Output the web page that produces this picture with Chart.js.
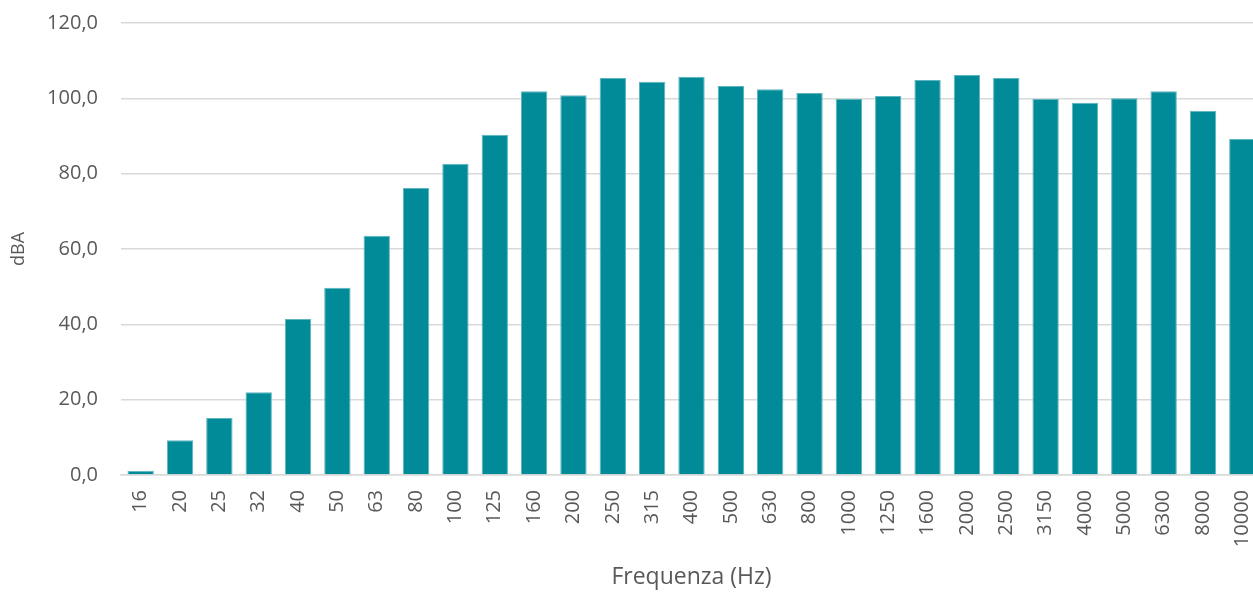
<!DOCTYPE html>
<html>
<head>
<meta charset="utf-8">
<script src="https://cdn.jsdelivr.net/npm/chart.js@4/dist/chart.umd.min.js"></script>
<style>
  html, body { margin: 0; padding: 0; background: #ffffff; overflow: hidden; }
  #wrap { width: 1262px; height: 592px; position: relative; }
</style>
</head>
<body>
<div id="wrap"><canvas id="c"></canvas></div>
<script>
const categories = ["16","20","25","32","40","50","63","80","100","125","160","200","250","315","400","500","630","800","1000","1250","1600","2000","2500","3150","4000","5000","6300","8000","10000"];
const levels = [1.1, 9.2, 15.1, 22.0, 41.4, 49.7, 63.5, 76.2, 82.6, 90.3, 101.9, 100.8, 105.4, 104.4, 105.7, 103.3, 102.4, 101.4, 99.9, 100.6, 104.9, 106.2, 105.4, 99.8, 98.8, 100.0, 101.9, 96.7, 89.2];
const yTicks = [0, 20, 40, 60, 80, 100, 120];
const xTitle = "Frequenza (Hz)";
const yTitle = "dBA";

const textColor = "#595959";
const gridColor = "#d9d9d9";
const fontFamily = "'Open Sans', sans-serif";

new Chart(document.getElementById("c"), {
  type: "bar",
  data: {
    labels: categories,
    datasets: [{
      data: levels,
      backgroundColor: "#018b99",
      borderColor: "#5db5bd",
      borderWidth: 1,
      categoryPercentage: 0.67,
      barPercentage: 1.0
    }]
  },
  options: {
    responsive: true,
    maintainAspectRatio: false,
    animation: false,
    layout: { padding: { top: 23, right: 0, bottom: 0, left: 0 } },
    plugins: { legend: { display: false }, tooltip: { enabled: false } },
    scales: {
      x: {
        grid: { display: false, drawTicks: false },
        border: { display: true, color: gridColor, width: 1.5 },
        ticks: {
          color: textColor,
          font: { family: fontFamily, size: 20 },
          maxRotation: 90, minRotation: 90,
          padding: 15,
          autoSkip: false
        },
        title: {
          display: true, text: xTitle, color: textColor,
          font: { family: fontFamily, size: 23 },
          padding: { top: 0, bottom: 1 }
        },
        afterFit: (s) => { s.height = 117; s.paddingLeft = 0; s.paddingRight = 0; }
      },
      y: {
        min: 0, max: 120,
        afterBuildTicks: (s) => { s.ticks = yTicks.map(v => ({ value: v })); },
        grid: { color: gridColor, lineWidth: 1.5, drawTicks: false },
        border: { display: false },
        ticks: {
          color: textColor,
          font: { family: fontFamily, size: 20 },
          padding: 23,
          callback: (v) => v.toFixed(1).replace(".", ",")
        },
        title: {
          display: true, text: yTitle, color: textColor,
          font: { family: fontFamily, size: 18 },
          padding: { top: 8, bottom: 0 }
        },
        afterFit: (s) => { s.width = 121; s.paddingTop = 0; s.paddingBottom = 0; }
      }
    }
  }
});
</script>
</body>
</html>
